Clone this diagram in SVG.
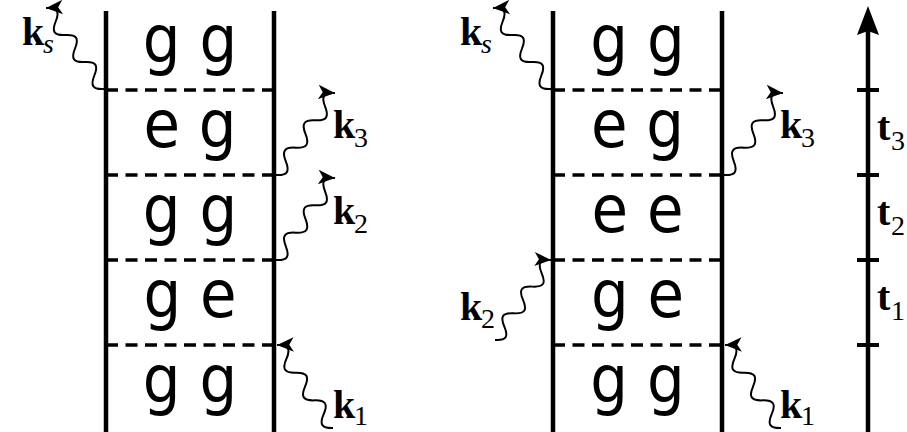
<svg xmlns="http://www.w3.org/2000/svg" width="907" height="432" viewBox="0 0 907 432">
<style>
.rail{stroke:#000;stroke-width:4.5;fill:none}
.dash{stroke:#000;stroke-width:3.5;stroke-dasharray:12 7.5;fill:none}
.tick{stroke:#000;stroke-width:4}
.wave{stroke:#000;stroke-width:2;fill:none;marker-end:url(#ah)}
.st{font-family:'DejaVu Sans Condensed','DejaVu Sans',sans-serif;font-stretch:condensed;font-size:66px;text-anchor:middle;fill:#000}
.k{font-family:'Liberation Serif','Times New Roman',serif;font-weight:bold;font-size:40px;fill:#000}
.sub{font-family:'Liberation Serif','Times New Roman',serif;font-size:28px;fill:#000}
.it{font-style:italic}
</style>
<defs>
<marker id="ah" markerUnits="userSpaceOnUse" markerWidth="20" markerHeight="20" viewBox="-16 -8 18 16" refX="0" refY="0" orient="auto">
<path d="M0,0 L-15,-6.5 L-11,0 L-15,6.5 Z" fill="#000"/>
</marker>
<path id="wv" d="M0,0 c6,9.5 10.67,9.5 16.67,0 s10.67,-9.5 16.67,0 s10.67,9.5 16.67,0 s10.67,-9.5 16.67,0 s10.67,9.5 16.67,0 s10.67,-9.5 16.67,0"/>
</defs>

<g id="diagram-left">
<g id="left-rails">
<line class="rail" x1="106" y1="11" x2="106" y2="432"/>
<line class="rail" x1="274" y1="11" x2="274" y2="432"/>
<line class="dash" x1="106" y1="90" x2="274" y2="90"/>
<line class="dash" x1="106" y1="175" x2="274" y2="175"/>
<line class="dash" x1="106" y1="260" x2="274" y2="260"/>
<line class="dash" x1="106" y1="345" x2="274" y2="345"/>
</g>
<g id="L-state5"><text class="st" x="190" y="62">g g</text></g>
<g id="L-state4"><text class="st" x="190" y="147">e g</text></g>
<g id="L-state3"><text class="st" x="190" y="232">g g</text></g>
<g id="L-state2"><text class="st" x="190" y="317">g e</text></g>
<g id="L-state1"><text class="st" x="190" y="402">g g</text></g>
</g>

<g id="diagram-right">
<g id="right-rails">
<line class="rail" x1="553" y1="11" x2="553" y2="432"/>
<line class="rail" x1="722" y1="11" x2="722" y2="432"/>
<line class="dash" x1="553" y1="90" x2="722" y2="90"/>
<line class="dash" x1="553" y1="175" x2="722" y2="175"/>
<line class="dash" x1="553" y1="260" x2="722" y2="260"/>
<line class="dash" x1="553" y1="345" x2="722" y2="345"/>
</g>
<g id="R-state5"><text class="st" x="637.5" y="62">g g</text></g>
<g id="R-state4"><text class="st" x="637.5" y="147">e g</text></g>
<g id="R-state3"><text class="st" x="637.5" y="232">e e</text></g>
<g id="R-state2"><text class="st" x="637.5" y="317">g e</text></g>
<g id="R-state1"><text class="st" x="637.5" y="402">g g</text></g>
</g>

<g id="time-axis">
<line class="rail" x1="868" y1="432" x2="868" y2="28"/>
<path d="M868,6 L879,35 L868,31 L857,35 Z" fill="#000"/>
<line class="tick" x1="857" y1="90" x2="879" y2="90"/>
<line class="tick" x1="857" y1="175" x2="879" y2="175"/>
<line class="tick" x1="857" y1="260" x2="879" y2="260"/>
<line class="tick" x1="857" y1="345" x2="879" y2="345"/>
<text class="k" x="877" y="140">t</text><text class="sub" x="891" y="150">3</text>
<text class="k" x="877" y="225">t</text><text class="sub" x="891" y="235">2</text>
<text class="k" x="877" y="310">t</text><text class="sub" x="891" y="320">1</text>
</g>

<g id="connectors">
<use href="#wv" class="wave" transform="translate(104,89) rotate(-125.6) scale(0.996,-1)"/>
<use href="#wv" class="wave" transform="translate(276,175) rotate(-54.3) scale(1.01,1)"/>
<use href="#wv" class="wave" transform="translate(276,260) rotate(-54.3) scale(1.01,1)"/>
<use href="#wv" class="wave" transform="translate(333,428) rotate(-124) scale(1.0,-1)"/>
<use href="#wv" class="wave" transform="translate(551,89) rotate(-125.6) scale(0.996,-1)"/>
<use href="#wv" class="wave" transform="translate(724,175) rotate(-54.3) scale(1.01,1)"/>
<use href="#wv" class="wave" transform="translate(495,340) rotate(-55) scale(0.977,1)"/>
<use href="#wv" class="wave" transform="translate(781,428) rotate(-124) scale(1.0,-1)"/>
</g>

<g id="labels">
<text class="k" x="22" y="45">k</text><text class="sub it" x="43" y="53">s</text>
<text class="k" x="333" y="138">k</text><text class="sub" x="354" y="147">3</text>
<text class="k" x="333" y="224">k</text><text class="sub" x="354" y="233">2</text>
<text class="k" x="333" y="418">k</text><text class="sub" x="354" y="425">1</text>
<text class="k" x="460" y="45">k</text><text class="sub it" x="481" y="53">s</text>
<text class="k" x="780" y="138">k</text><text class="sub" x="801" y="147">3</text>
<text class="k" x="460" y="320">k</text><text class="sub" x="481" y="328">2</text>
<text class="k" x="780" y="418">k</text><text class="sub" x="801" y="425">1</text>
</g>
</svg>
